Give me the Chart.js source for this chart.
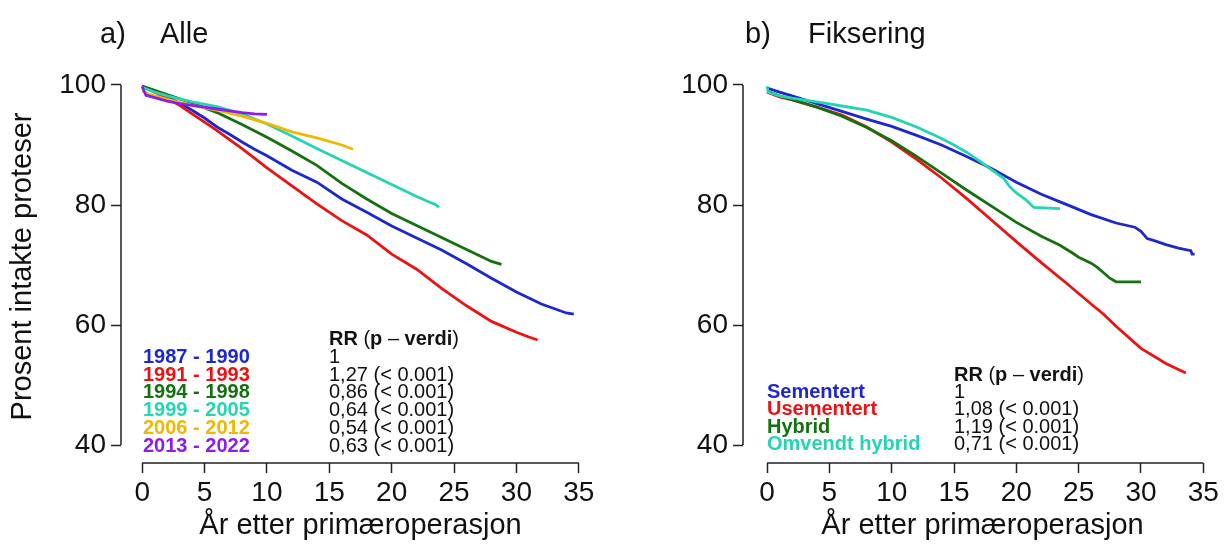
<!DOCTYPE html>
<html>
<head>
<meta charset="utf-8">
<script src="https://cdn.jsdelivr.net/npm/chart.js@4"></script>
<style>
  html, body { margin: 0; padding: 0; background: #fff; }
  #wrap { position: relative; width: 1224px; height: 545px; overflow: hidden; }
  .panel { position: absolute; top: 0; width: 612px; height: 545px; }
</style>
</head>
<body>
<div id="wrap">
  <div class="panel" style="left:0"><canvas id="panelA" width="612" height="545"></canvas></div>
  <div class="panel" style="left:612px"><canvas id="panelB" width="612" height="545"></canvas></div>
</div>
<script>
// ---- axis ticks ----
const xTicks = [0, 5, 10, 15, 20, 25, 30, 35];
const yTicks = [40, 60, 80, 100];

// ---- panel a) Alle: survival by operation period ----
const periodNames = ['1987 - 1990', '1991 - 1993', '1994 - 1998', '1999 - 2005', '2006 - 2012', '2013 - 2022'];
const periodRR = ['1', '1,27 (< 0.001)', '0,86 (< 0.001)', '0,64 (< 0.001)', '0,54 (< 0.001)', '0,63 (< 0.001)'];

const t8790 = [0, 1, 2, 3, 4, 5, 6, 7, 8, 9, 10, 12, 14, 16, 18, 20, 22, 24, 26, 28, 30, 32, 34, 34.6];
const s8790 = [99.8, 99, 98, 97, 95.8, 94.5, 93, 91.8, 90.5, 89.3, 88.2, 85.8, 83.8, 81, 78.8, 76.5, 74.5, 72.5, 70.2, 67.8, 65.5, 63.5, 62, 61.8];

const t9193 = [0, 1, 2, 3, 4, 5, 6, 7, 8, 9, 10, 12, 14, 16, 18, 20, 22, 24, 26, 28, 30, 31, 31.7];
const s9193 = [99.8, 98.8, 97.8, 96.6, 95.2, 93.8, 92.4, 90.9, 89.4, 87.8, 86.2, 83.2, 80.2, 77.4, 75, 71.8, 69.3, 66.1, 63.2, 60.6, 58.8, 58, 57.5];

const t9498 = [0, 2, 4, 6, 8, 10, 12, 14, 16, 18, 20, 22, 24, 26, 28, 28.8];
const s9498 = [99.8, 98.4, 97, 95.4, 93.4, 91.3, 89, 86.6, 83.6, 81, 78.6, 76.6, 74.6, 72.6, 70.6, 70.1];

const t9905 = [0, 1, 2, 4, 6, 8, 10, 12, 14, 16, 18, 20, 22, 23, 23.5, 23.8];
const s9905 = [99.6, 98.8, 98.2, 97.2, 96.4, 95.2, 93.5, 91.5, 89.4, 87.4, 85.4, 83.4, 81.4, 80.5, 80.1, 79.6];

const t0612 = [0, 0.5, 1, 2, 4, 6, 8, 10, 12, 14, 16, 16.9];
const s0612 = [99, 98.5, 98.2, 97.6, 96.6, 95.8, 94.8, 93.6, 92.2, 91.2, 90, 89.3];

const t1322 = [0, 0.1, 0.3, 1, 2, 3, 4, 5, 6, 7, 8, 9, 10];
const s1322 = [99.8, 99.2, 98.3, 97.9, 97.3, 96.9, 96.6, 96.3, 96, 95.7, 95.4, 95.2, 95.1];

// ---- panel b) Fiksering: survival by fixation method ----
const fixNames = ['Sementert', 'Usementert', 'Hybrid', 'Omvendt hybrid'];
const fixRR = ['1', '1,08 (< 0.001)', '1,19 (< 0.001)', '0,71 (< 0.001)'];

const tSem = [0, 1, 2, 4, 6, 8, 10, 12, 14, 16, 18, 20, 22, 24, 26, 28, 29.5, 30, 30.5, 31, 32, 33, 34, 34.1, 34.3];
const sSem = [99.5, 98.8, 98.2, 96.9, 95.6, 94.3, 93.1, 91.6, 90, 88.1, 86.1, 83.8, 81.8, 80.1, 78.4, 77, 76.3, 75.6, 74.4, 74.1, 73.4, 72.8, 72.4, 71.8, 71.8];

const tUsem = [0, 1, 2, 4, 6, 8, 10, 12, 14, 16, 18, 20, 22, 24, 26, 27, 28, 30, 32, 33, 33.6];
const sUsem = [98.8, 98, 97.5, 96.3, 95, 93, 90.5, 87.6, 84.5, 81.1, 77.5, 73.9, 70.4, 67, 63.5, 61.8, 59.8, 56.1, 53.6, 52.6, 52];

const tHyb = [0, 1, 2, 4, 6, 8, 10, 12, 14, 16, 18, 20, 22, 23.5, 24.5, 25, 26, 26.5, 27, 27.5, 28, 30];
const sHyb = [99, 98.2, 97.6, 96.3, 94.8, 92.9, 90.7, 88.1, 85.3, 82.5, 79.8, 77.1, 74.8, 73.3, 72, 71.3, 70.3, 69.6, 68.7, 67.8, 67.2, 67.2];

const tOmv = [0, 0.1, 1, 2, 4, 6, 8, 10, 12, 14, 15, 16, 17, 18, 19, 19.5, 20, 20.8, 21.4, 23.5];
const sOmv = [99.8, 98.8, 98.2, 97.8, 97.2, 96.5, 95.8, 94.6, 93, 91.1, 90, 88.8, 87.4, 85.9, 84.4, 83, 82, 80.8, 79.6, 79.4];

// ---- styling ----
const FONT = '"Liberation Sans", Arial, Helvetica, sans-serif';
const INK = '#111111';
const AXIS = '#222222';
const BLUE = '#1c28cc', RED = '#ec1212', GREEN = '#15700f', TEAL = '#26d4b4', GOLD = '#f0b800', PURPLE = '#8c1cf0';

function pts(t, s) { return t.map((v, i) => ({ x: v, y: s[i] })); }

// axis lines spanning first to last tick, as in base graphics
const axisLines = {
  id: 'axisLines',
  afterDraw(chart) {
    const { ctx, chartArea, scales: { x, y } } = chart;
    ctx.save();
    ctx.strokeStyle = AXIS;
    ctx.lineWidth = 1.5;
    ctx.beginPath();
    ctx.moveTo(x.getPixelForValue(xTicks[0]), chartArea.bottom);
    ctx.lineTo(x.getPixelForValue(xTicks[xTicks.length - 1]), chartArea.bottom);
    ctx.moveTo(chartArea.left, y.getPixelForValue(yTicks[0]));
    ctx.lineTo(chartArea.left, y.getPixelForValue(yTicks[yTicks.length - 1]));
    ctx.stroke();
    ctx.restore();
  }
};

// panel heading such as "a)   Alle"
const panelTitle = {
  id: 'panelTitle',
  afterDraw(chart, args, o) {
    const ctx = chart.ctx;
    ctx.save();
    ctx.font = `${o.size}px ${FONT}`;
    ctx.fillStyle = INK;
    ctx.textAlign = 'left';
    ctx.textBaseline = 'alphabetic';
    ctx.fillText(o.label, o.x1, o.y);
    ctx.fillText(o.text, o.x2, o.y);
    ctx.restore();
  }
};

// coloured group names with relative risk column
const rrLegend = {
  id: 'rrLegend',
  afterDraw(chart, args, o) {
    const ctx = chart.ctx;
    const ds = chart.data.datasets;
    ctx.save();
    ctx.textAlign = 'left';
    ctx.textBaseline = 'alphabetic';
    ctx.fillStyle = INK;
    const head = [['RR', 'bold'], [' (', 'normal'], ['p', 'bold'], [' \u2013 ', 'normal'], ['verdi', 'bold'], [')', 'normal']];
    let hx = o.rrX;
    head.forEach(([txt, w]) => {
      ctx.font = `${w} ${o.size}px ${FONT}`;
      ctx.fillText(txt, hx, o.headY);
      hx += ctx.measureText(txt).width;
    });
    ds.forEach((d, i) => {
      const yy = o.rowY + i * o.step;
      ctx.font = `bold ${o.size}px ${FONT}`;
      ctx.fillStyle = d.borderColor;
      ctx.fillText(d.label, o.x, yy);
      ctx.font = `normal ${o.size}px ${FONT}`;
      ctx.fillStyle = INK;
      ctx.fillText(o.rr[i], o.rrX, yy);
    });
    ctx.restore();
  }
};

function makePanel(id, p) {
  const n = p.series.length;
  const datasets = p.series.map((s, i) => ({
    label: s.name,
    data: pts(s.t, s.s),
    borderColor: s.color,
    backgroundColor: s.color,
    borderWidth: 2.8,
    pointRadius: 0,
    tension: 0,
    fill: false,
    order: n - i
  }));
  const tickFont = { family: FONT, size: 28 };
  return new Chart(document.getElementById(id), {
    type: 'line',
    data: { datasets },
    options: {
      responsive: false,
      animation: false,
      events: [],
      layout: { padding: { left: 0, right: p.padRight, top: 70, bottom: 0 } },
      scales: {
        x: {
          type: 'linear',
          min: p.xMin, max: p.xMax,
          afterFit: (s) => { s.height = 82; },
          afterBuildTicks: (s) => { s.ticks = xTicks.map(v => ({ value: v })); },
          ticks: { font: tickFont, color: INK, padding: 3, autoSkip: false, maxRotation: 0,
                   callback: (v) => String(v) },
          grid: { display: true, drawOnChartArea: false, drawTicks: true, tickLength: 10,
                  tickColor: AXIS, tickWidth: 1.5 },
          border: { display: false },
          title: { display: true, text: 'År etter primæroperasjon', font: { family: FONT, size: 29 },
                   color: INK, padding: { top: 0, bottom: 2 } }
        },
        y: {
          type: 'linear',
          min: 37, max: 102.5,
          afterFit: (s) => { s.width = p.yWidth; },
          afterBuildTicks: (s) => { s.ticks = yTicks.map(v => ({ value: v })); },
          ticks: { font: tickFont, color: INK, padding: 5, autoSkip: false,
                   callback: (v) => String(v) },
          grid: { display: true, drawOnChartArea: false, drawTicks: true, tickLength: 10,
                  tickColor: AXIS, tickWidth: 1.5 },
          border: { display: false },
          title: { display: p.showYTitle, text: 'Prosent intakte proteser', font: { family: FONT, size: 29 },
                   color: INK, padding: { top: 6, bottom: 0 } }
        }
      },
      plugins: {
        legend: { display: false },
        tooltip: { enabled: false },
        panelTitle: p.title,
        rrLegend: p.legend
      }
    },
    plugins: [axisLines, panelTitle, rrLegend]
  });
}

makePanel('panelA', {
  xMin: -1.7, xMax: 36.7, padRight: 12, yWidth: 121, showYTitle: true,
  title: { label: 'a)', text: 'Alle', x1: 100, x2: 160, y: 43, size: 29 },
  legend: { x: 143, rrX: 329, headY: 345, rowY: 362.7, step: 17.8, size: 20, rr: periodRR },
  series: [
    { name: periodNames[0], color: BLUE, t: t8790, s: s8790 },
    { name: periodNames[1], color: RED, t: t9193, s: s9193 },
    { name: periodNames[2], color: GREEN, t: t9498, s: s9498 },
    { name: periodNames[3], color: TEAL, t: t9905, s: s9905 },
    { name: periodNames[4], color: GOLD, t: t0612, s: s0612 },
    { name: periodNames[5], color: PURPLE, t: t1322, s: s1322 }
  ]
});

makePanel('panelB', {
  xMin: -1.93, xMax: 36.5, padRight: 2, yWidth: 131, showYTitle: false,
  title: { label: 'b)', text: 'Fiksering', x1: 133, x2: 196, y: 43, size: 29 },
  legend: { x: 155, rrX: 342, headY: 380.5, rowY: 398, step: 17.3, size: 20, rr: fixRR },
  series: [
    { name: fixNames[0], color: BLUE, t: tSem, s: sSem },
    { name: fixNames[1], color: RED, t: tUsem, s: sUsem },
    { name: fixNames[2], color: GREEN, t: tHyb, s: sHyb },
    { name: fixNames[3], color: TEAL, t: tOmv, s: sOmv }
  ]
});
</script>
</body>
</html>
